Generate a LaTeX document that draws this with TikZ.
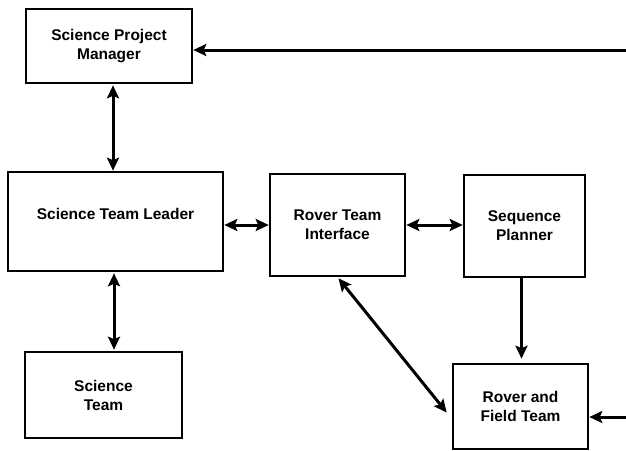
\documentclass[tikz,border=0pt]{standalone}
\usepackage{fontspec}
\setmainfont{Liberation Sans}
\usetikzlibrary{arrows.meta,calc}

\begin{document}
\begin{tikzpicture}[x=1pt,y=-1pt,
        box/.style={draw,line width=2.6pt,align=center,inner sep=0pt,
            font=\fontsize{15.5}{19}\selectfont\bfseries},
        oneway/.style={line width=3pt,-{Stealth[length=13pt,width=12pt,inset=2.5pt]}},
        twoway/.style={line width=3pt,{Stealth[length=13pt,width=12pt,inset=2.5pt]}-{Stealth[length=13pt,width=12pt,inset=2.5pt]}}]
                \useasboundingbox(0,0)rectangle(626,450);
                \node[box,minimum width=166pt,minimum height=74pt](spm)at(109,46){Science Project\\Manager};
                \node[box,minimum width=215pt,minimum height=99pt,text depth=16pt](stl)at(115.5,221.5){Science Team Leader};
                \node[box,minimum width=135pt,minimum height=102pt](rti)at(337.5,225){Rover Team\\Interface};
                \node[box,minimum width=121pt,minimum height=102pt](sp)at(524.5,226){Sequence\\Planner};
                \node[box,minimum width=157pt,minimum height=86pt](st)at(103.5,395){Science\\Team};
                \node[box,minimum width=135pt,minimum height=85pt](rft)at(520.5,406.5){Rover and\\Field Team};
                \coordinate(in1)at(626,50);
                \coordinate(in2)at(626,417);
                \draw[oneway](in1)--(in1-|spm.east);
                \draw[oneway](in2)--(in2-|rft.east);
                \draw[twoway]($(spm.south)+(4,1)$)--($(spm.south|-stl.north)+(4,0)$);
                \draw[twoway]($(stl.south)+(-1.5,1)$)--($(stl.south|-st.north)+(-1.5,-1)$);
                \draw[twoway](rti.west-|stl.east)--(rti.west);
                \draw[twoway](rti.east)--(rti.east-|sp.west);
                \draw[oneway]($(sp.south)+(-3,0)$)--($(sp.south|-rft.north)+(-3,-4)$);
                \draw[twoway]($(rti.south)+(1,1)$)--($(rft.west)+(-5,6)$);
            \end{tikzpicture}
\end{document}
